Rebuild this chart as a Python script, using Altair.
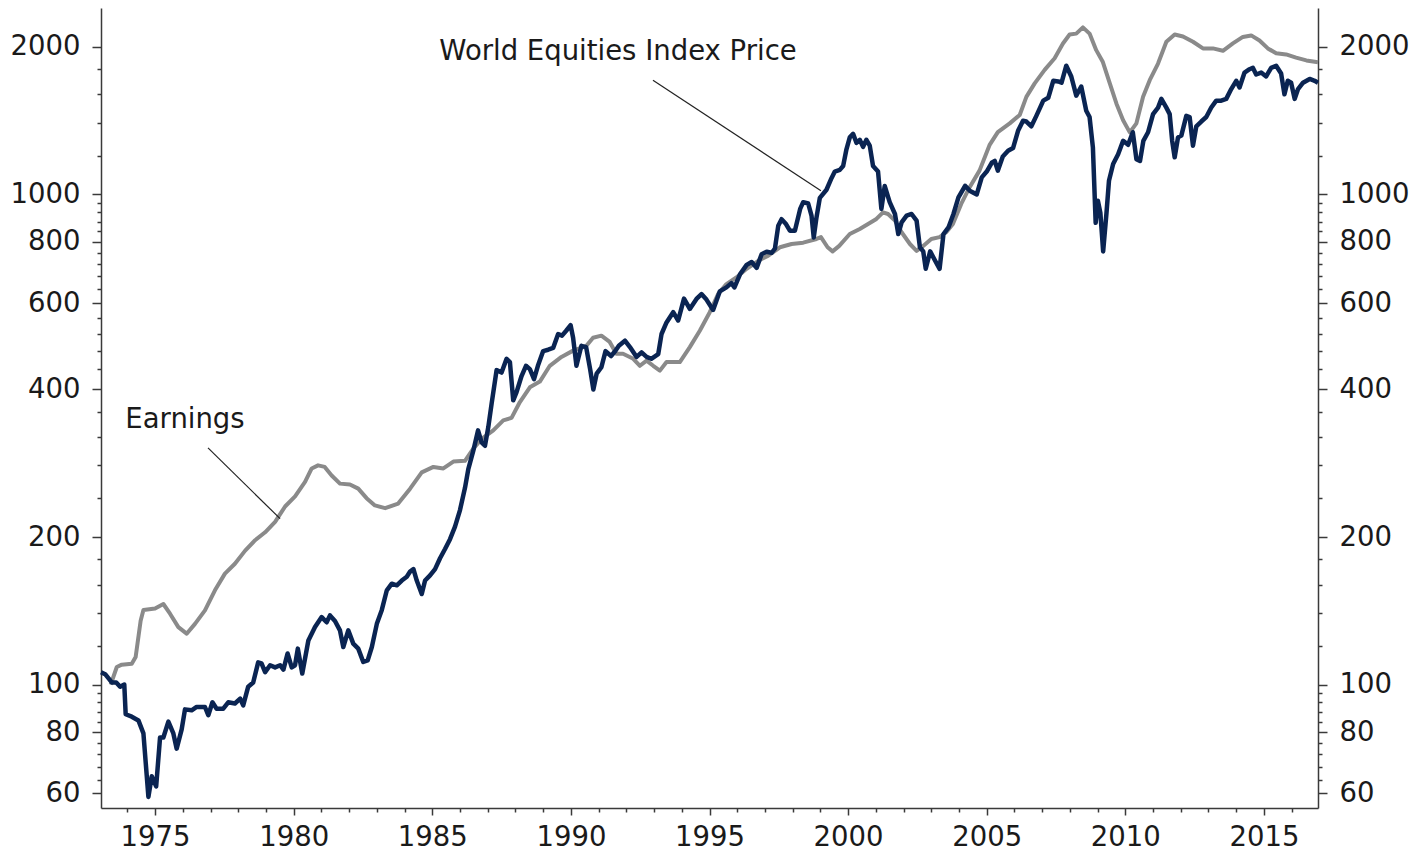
import altair as alt
import pandas as pd

# ---------------- data ----------------
price_year = [
    1973.05, 1973.20, 1973.44, 1973.60, 1973.74, 1973.89, 1973.94, 1974.16, 1974.40, 1974.58,
    1974.76, 1974.88, 1975.04, 1975.18, 1975.30, 1975.48, 1975.66, 1975.78, 1975.96, 1976.08,
    1976.32, 1976.50, 1976.80, 1976.92, 1977.07, 1977.22, 1977.46, 1977.64, 1977.88, 1978.07,
    1978.18, 1978.36, 1978.54, 1978.72, 1978.84, 1978.97, 1979.15, 1979.33, 1979.51, 1979.63,
    1979.78, 1979.93, 1980.05, 1980.15, 1980.31, 1980.53, 1980.77, 1981.01, 1981.19, 1981.31,
    1981.49, 1981.67, 1981.79, 1981.97, 1982.15, 1982.33, 1982.51, 1982.67, 1982.82, 1983.00,
    1983.18, 1983.36, 1983.54, 1983.72, 1983.90, 1984.08, 1984.20, 1984.32, 1984.44, 1984.62,
    1984.74, 1984.92, 1985.10, 1985.28, 1985.46, 1985.64, 1985.82, 1986.00, 1986.18, 1986.30,
    1986.48, 1986.65, 1986.78, 1986.90, 1987.02, 1987.14, 1987.32, 1987.50, 1987.68, 1987.80,
    1987.92, 1988.04, 1988.22, 1988.38, 1988.52, 1988.67, 1988.81, 1989.00, 1989.18, 1989.36,
    1989.54, 1989.68, 1989.83, 1989.99, 1990.08, 1990.20, 1990.38, 1990.55, 1990.70, 1990.81,
    1990.93, 1991.10, 1991.25, 1991.45, 1991.60, 1991.73, 1991.95, 1992.13, 1992.37, 1992.55,
    1992.73, 1992.90, 1993.15, 1993.27, 1993.45, 1993.69, 1993.87, 1994.08, 1994.29, 1994.53,
    1994.71, 1994.89, 1995.13, 1995.37, 1995.61, 1995.79, 1995.90, 1996.10, 1996.34, 1996.52,
    1996.70, 1996.88, 1997.06, 1997.24, 1997.36, 1997.48, 1997.60, 1997.76, 1997.90, 1998.08,
    1998.27, 1998.38, 1998.56, 1998.68, 1998.76, 1998.86, 1998.98, 1999.22, 1999.40, 1999.52,
    1999.70, 1999.82, 1999.94, 2000.06, 2000.18, 2000.30, 2000.42, 2000.54, 2000.66, 2000.78,
    2000.90, 2001.08, 2001.20, 2001.32, 2001.50, 2001.69, 2001.81, 2001.93, 2002.11, 2002.29,
    2002.47, 2002.59, 2002.71, 2002.80, 2002.96, 2003.14, 2003.30, 2003.44, 2003.62, 2003.80,
    2003.98, 2004.22, 2004.40, 2004.64, 2004.82, 2005.00, 2005.18, 2005.29, 2005.40, 2005.58,
    2005.77, 2005.95, 2006.13, 2006.31, 2006.43, 2006.61, 2006.79, 2007.04, 2007.22, 2007.40,
    2007.58, 2007.70, 2007.87, 2008.05, 2008.23, 2008.41, 2008.59, 2008.71, 2008.83, 2008.93,
    2009.01, 2009.10, 2009.20, 2009.32, 2009.41, 2009.56, 2009.74, 2009.92, 2010.10, 2010.27,
    2010.40, 2010.53, 2010.65, 2010.82, 2011.00, 2011.18, 2011.30, 2011.48, 2011.60, 2011.69,
    2011.78, 2011.90, 2012.02, 2012.20, 2012.32, 2012.44, 2012.56, 2012.74, 2012.92, 2013.10,
    2013.28, 2013.46, 2013.64, 2013.82, 2014.00, 2014.12, 2014.30, 2014.48, 2014.60, 2014.72,
    2014.90, 2015.08, 2015.26, 2015.44, 2015.62, 2015.74, 2015.86, 2015.98, 2016.11, 2016.23,
    2016.41, 2016.65, 2016.83, 2016.95,
]
price_value = [
    106, 105, 101, 101, 99, 100, 87, 86, 84.5, 79.5,
    59, 65, 62, 78, 78, 84, 79.5, 74, 81, 89,
    88.6, 90, 90, 86.6, 92, 89.3, 89.3, 92, 91.5, 93.6,
    90.7, 99, 101, 111, 110.5, 106, 109.5, 108.4, 109.5, 107.3,
    115.7, 108.4, 109.5, 118.4, 105.3, 123, 131, 137.3, 134, 138.4,
    134.8, 129, 119.3, 129, 121.2, 118.4, 111.2, 112, 119.3, 133,
    142, 155.7, 160.6, 159.4, 163, 166, 170, 172, 163, 153,
    163, 167, 172, 181, 189, 198, 210, 227, 252, 275,
    300, 330, 312, 307, 335, 374, 438, 433, 462, 455,
    380, 395, 426, 447, 440, 420, 447, 479, 482, 486,
    519, 515, 527, 541, 510, 447, 491, 488, 438, 400,
    431, 444, 479, 468, 479, 491, 503, 488, 466, 476,
    466, 462, 472, 519, 548, 575, 553, 613, 584, 612,
    626, 610, 581, 634, 646, 659, 646, 687, 718, 728,
    708, 755, 764, 760, 775, 863, 890, 870, 843, 843,
    934, 964, 958, 905, 817, 898, 984, 1022, 1079, 1113,
    1122, 1142, 1236, 1307, 1329, 1274, 1292, 1250, 1292, 1258,
    1142, 1113, 934, 1040, 964, 912, 830, 877, 905, 912,
    884, 780, 765, 705, 765, 732, 705, 830, 856, 912,
    986, 1041, 1016, 1000, 1083, 1113, 1160, 1170, 1118, 1195,
    1227, 1243, 1348, 1413, 1408, 1377, 1446, 1553, 1574, 1705,
    1700, 1690, 1830, 1740, 1590, 1660, 1481, 1438, 1247, 875,
    971, 916, 765, 916, 1066, 1153, 1207, 1286, 1262, 1339,
    1180, 1170, 1286, 1339, 1458, 1503, 1566, 1503, 1458, 1286,
    1190, 1307, 1318, 1446, 1438, 1257, 1377, 1408, 1438, 1504,
    1553, 1553, 1566, 1640, 1705, 1652, 1772, 1800, 1812, 1756,
    1772, 1740, 1812, 1830, 1764, 1600, 1705, 1690, 1566, 1640,
    1690, 1720, 1705, 1690,
]

earn_year = [
    1973.40, 1973.62, 1973.80, 1974.16, 1974.30, 1974.48, 1974.58, 1975.00, 1975.30, 1975.54,
    1975.84, 1976.14, 1976.44, 1976.80, 1977.16, 1977.52, 1977.88, 1978.25, 1978.61, 1978.97,
    1979.33, 1979.69, 1980.05, 1980.41, 1980.65, 1980.88, 1981.12, 1981.37, 1981.67, 1982.03,
    1982.33, 1982.63, 1982.93, 1983.30, 1983.77, 1984.20, 1984.62, 1985.04, 1985.40, 1985.76,
    1986.18, 1986.48, 1986.78, 1987.20, 1987.56, 1987.86, 1988.16, 1988.52, 1988.88, 1989.24,
    1989.66, 1990.08, 1990.56, 1990.80, 1991.10, 1991.40, 1991.64, 1991.88, 1992.25, 1992.49,
    1992.73, 1992.97, 1993.21, 1993.45, 1993.93, 1994.29, 1994.65, 1995.01, 1995.31, 1995.61,
    1995.97, 1996.34, 1996.76, 1997.12, 1997.54, 1997.96, 1998.38, 1998.86, 1999.02, 1999.26,
    1999.44, 1999.68, 2000.06, 2000.42, 2000.72, 2001.02, 2001.26, 2001.44, 2001.69, 2001.93,
    2002.23, 2002.47, 2002.71, 2003.00, 2003.30, 2003.54, 2003.78, 2004.08, 2004.38, 2004.74,
    2005.10, 2005.40, 2005.83, 2006.19, 2006.43, 2006.73, 2007.09, 2007.45, 2007.75, 2007.99,
    2008.23, 2008.47, 2008.71, 2008.95, 2009.19, 2009.44, 2009.68, 2009.92, 2010.16, 2010.40,
    2010.64, 2010.88, 2011.18, 2011.48, 2011.78, 2012.08, 2012.44, 2012.80, 2013.16, 2013.52,
    2013.88, 2014.24, 2014.54, 2014.84, 2015.14, 2015.44, 2015.80, 2016.16, 2016.53, 2016.95,
]
earn_value = [
    100, 108.6, 109.8, 110.3, 113.8, 135, 142, 143, 146, 139.5,
    131, 127, 133, 141.7, 155.7, 168.4, 176.4, 187.6, 197, 204.5,
    214.7, 230.8, 242, 259, 276, 280, 278, 267, 257, 256,
    251, 240, 232, 229, 234, 251, 271, 278, 276, 285,
    286, 303, 317, 330, 346, 350, 377, 404, 415, 447,
    466, 480, 491, 510, 515, 500, 473, 473, 462, 447,
    458, 447, 437, 455, 455, 488, 527, 575, 626, 656,
    677, 705, 732, 750, 780, 792, 797, 811, 818, 780,
    765, 785, 830, 850, 870, 891, 919, 912, 884, 837,
    792, 767, 785, 811, 818, 837, 870, 956, 1033, 1118,
    1260, 1340, 1396, 1452, 1581, 1684, 1795, 1896, 2032, 2119,
    2128, 2191, 2128, 1969, 1862, 1684, 1531, 1416, 1338, 1396,
    1581, 1710, 1849, 2048, 2119, 2100, 2048, 1985, 1985, 1963,
    2032, 2095, 2110, 2060, 1985, 1940, 1930, 1901, 1876, 1860,
]

major_y = [60, 80, 100, 200, 400, 600, 800, 1000, 2000]
minor_y = [64, 68, 72, 76, 84, 88, 92, 96, 120, 140, 160, 180,
           240, 280, 320, 360, 440, 480, 520, 560, 640, 680, 720, 760,
           840, 880, 920, 960, 1200, 1400, 1600, 1800]
major_x = [1975, 1980, 1985, 1990, 1995, 2000, 2005, 2010, 2015]
all_x = list(range(1974, 2017))

label_text = ["World Equities Index Price", "Earnings"]
label_year = [1991.70, 1976.08]
label_value = [1950, 346]
leader_year = [1992.96, 1976.91]
leader_value = [1710, 304]
leader_year2 = [1999.02, 1979.51]
leader_value2 = [1017, 218]

# ---------------- build chart ----------------
NAVY = "#0a2452"
GRAY = "#8a8a8a"
FONT = "DejaVu Sans"
AXC = "#3a3a3a"

price_df = pd.DataFrame({"year": price_year, "value": price_value})
earn_df = pd.DataFrame({"year": earn_year, "value": earn_value})
lab_df = pd.DataFrame({"text": label_text, "year": label_year, "value": label_value})
lead_df = pd.DataFrame({"year": leader_year, "value": leader_value,
                        "year2": leader_year2, "value2": leader_value2})

xscale = alt.Scale(domain=[1973.05, 2016.95], nice=False, zero=False)
yscale = alt.Scale(type="log", domain=[56, 2400], nice=False)

all_y = sorted(major_y + minor_y)
ytest = f"indexof({major_y}, datum.value) >= 0"
xtest = f"indexof({major_x}, datum.value) >= 0"


def yaxis(orient):
    return alt.Axis(
        orient=orient, values=all_y, format="d", grid=False,
        labelExpr=f"{ytest} ? datum.label : ''",
        tickSize={"condition": {"test": ytest, "value": 9}, "value": 4},
        labelPadding=12, labelOverlap=False, labelFlush=False, labelBound=False,
        labelFont=FONT, labelFontSize=27.5, labelColor="#1a1a1a",
        domainColor=AXC, domainWidth=1.5, tickColor=AXC, tickWidth=1.5,
        title=None,
    )


xaxis = alt.Axis(
    values=all_x, format="d", grid=False,
    labelExpr=f"{xtest} ? datum.label : ''",
    tickSize={"condition": {"test": xtest, "value": 7}, "value": 4},
    labelPadding=8, labelOverlap=False, labelFlush=False, labelBound=False,
    labelFont=FONT, labelFontSize=27.5, labelColor="#1a1a1a",
    domainColor=AXC, domainWidth=1.5, tickColor=AXC, tickWidth=1.5,
    title=None,
)

earn = alt.Chart(earn_df).mark_line(color=GRAY, strokeWidth=4, strokeJoin="round").encode(
    x=alt.X("year:Q", scale=xscale, axis=xaxis),
    y=alt.Y("value:Q", scale=yscale, axis=yaxis("right")),
)

price = alt.Chart(price_df).mark_line(color=NAVY, strokeWidth=4.5, strokeJoin="round").encode(
    x=alt.X("year:Q", scale=xscale, axis=xaxis),
    y=alt.Y("value:Q", scale=yscale, axis=yaxis("left")),
)

leaders = alt.Chart(lead_df).mark_rule(color="#222222", strokeWidth=1.2).encode(
    x=alt.X("year:Q", scale=xscale, axis=xaxis),
    y=alt.Y("value:Q", scale=yscale, axis=None),
    x2="year2:Q",
    y2="value2:Q",
)

labels = alt.Chart(lab_df).mark_text(
    font=FONT, fontSize=27.5, color="#1a1a1a", align="center", baseline="middle"
).encode(
    x=alt.X("year:Q", scale=xscale, axis=xaxis),
    y=alt.Y("value:Q", scale=yscale, axis=None),
    text="text:N",
)

chart = (
    alt.layer(earn, price, leaders, labels)
    .resolve_scale(y="shared")
    .resolve_axis(y="independent")
    .properties(
        width=1217, height=800,
        padding={"left": 93, "top": 0, "right": 91, "bottom": 41},
        autosize=alt.AutoSizeParams(type="none"),
        background="white",
    )
    .configure_view(stroke=None)
)

chart.save("out.html", embed_options={"renderer": "svg", "actions": False})
